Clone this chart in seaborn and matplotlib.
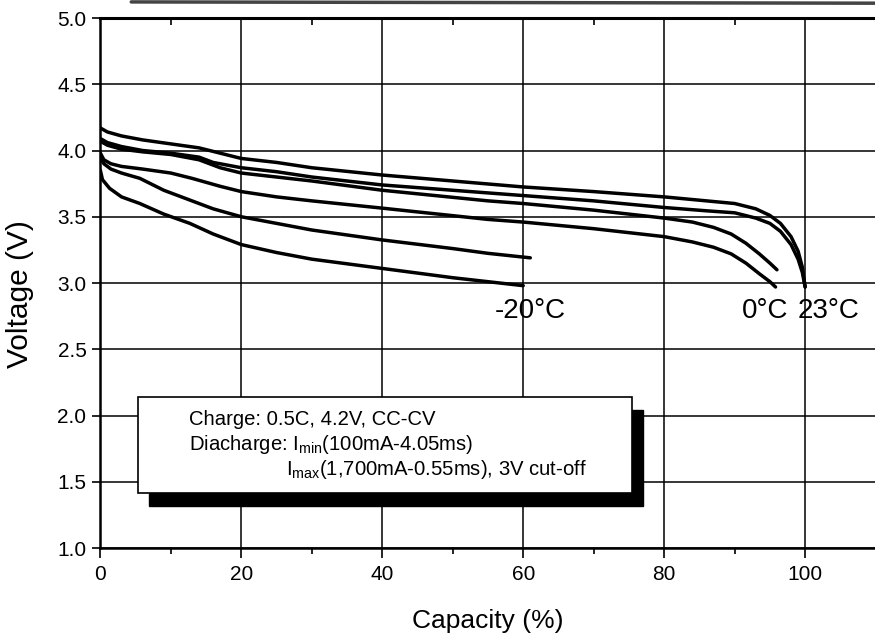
import numpy as np
import pandas as pd
import matplotlib
matplotlib.use("Agg")
import matplotlib.pyplot as plt
import seaborn as sns
from matplotlib.patches import Rectangle
from matplotlib.ticker import FixedLocator
from matplotlib.lines import Line2D

# ---------------- data ----------------
cap_23a = [0, 1, 3, 6, 10, 14, 17, 20, 25, 30, 40, 50, 60, 70, 80, 86, 90, 93, 95, 96.5, 98, 99, 99.6, 100]
volt_23a = [4.17, 4.14, 4.11, 4.08, 4.05, 4.02, 3.98, 3.94, 3.91, 3.87, 3.815, 3.77, 3.725, 3.69, 3.65, 3.62,
            3.60, 3.56, 3.51, 3.45, 3.35, 3.24, 3.12, 2.97]

cap_23b = [0, 1, 3, 6, 10, 14, 16, 20, 25, 30, 40, 55, 60, 70, 80, 86, 90, 93, 95, 96.5, 98, 99, 99.6, 100]
volt_23b = [4.09, 4.06, 4.03, 4.00, 3.98, 3.95, 3.91, 3.87, 3.84, 3.80, 3.74, 3.68, 3.66, 3.62, 3.57, 3.545,
            3.53, 3.49, 3.45, 3.39, 3.29, 3.18, 3.08, 2.97]

cap_0a = [0, 1, 3, 6, 10, 14, 17, 20, 25, 30, 40, 55, 60, 70, 80, 84, 87, 89.5, 91.6, 93.5, 95, 96]
volt_0a = [4.07, 4.04, 4.01, 3.99, 3.97, 3.93, 3.87, 3.83, 3.80, 3.77, 3.70, 3.62, 3.60, 3.55, 3.49, 3.46,
           3.42, 3.37, 3.30, 3.22, 3.15, 3.10]

cap_0b = [0, 0.5, 1.5, 3, 6, 10, 13, 17, 20, 25, 30, 40, 55, 60, 70, 80, 84, 87, 89.5, 91.6, 93.5, 95, 95.8]
volt_0b = [3.98, 3.93, 3.90, 3.88, 3.86, 3.83, 3.79, 3.73, 3.69, 3.65, 3.62, 3.565, 3.48, 3.46, 3.41, 3.35,
           3.31, 3.27, 3.22, 3.15, 3.07, 3.01, 2.97]

cap_m20a = [0, 0.5, 1.5, 3, 5.6, 9, 12.7, 16, 20, 25, 30, 40, 50, 55, 61]
volt_m20a = [3.95, 3.90, 3.86, 3.83, 3.79, 3.70, 3.626, 3.56, 3.50, 3.45, 3.40, 3.325, 3.26, 3.224, 3.19]

cap_m20b = [0, 0.3, 1.3, 3, 5.6, 9, 12.7, 16, 20, 25, 30, 40, 50, 55, 60]
volt_m20b = [3.85, 3.78, 3.715, 3.65, 3.60, 3.52, 3.45, 3.37, 3.29, 3.23, 3.18, 3.11, 3.04, 3.01, 2.98]

curve_names = ["23a", "23b", "0a", "0b", "-20a", "-20b"]
temp_labels = ["-20\u00b0C", "0\u00b0C", "23\u00b0C"]
x_ticks = [0, 20, 40, 60, 80, 100]
y_ticks = [1.0, 1.5, 2.0, 2.5, 3.0, 3.5, 4.0, 4.5, 5.0]
box_lines = ["Charge: 0.5C, 4.2V, CC-CV",
             "Diacharge: I$_{\\rm min}$(100mA-4.05ms)",
             "I$_{\\rm max}$(1,700mA-0.55ms), 3V cut-off"]

caps = [cap_23a, cap_23b, cap_0a, cap_0b, cap_m20a, cap_m20b]
volts = [volt_23a, volt_23b, volt_0a, volt_0b, volt_m20a, volt_m20b]
frames = []
for name, c, v in zip(curve_names, caps, volts):
    frames.append(pd.DataFrame({"Capacity": c, "Voltage": v, "curve": name}))
df = pd.concat(frames, ignore_index=True)

# ---------------- style ----------------
sns.set_style("ticks")
plt.rcParams["font.family"] = ["Liberation Sans", "DejaVu Sans"]
plt.rcParams["mathtext.fontset"] = "custom"
plt.rcParams["mathtext.rm"] = "Liberation Sans"
plt.rcParams["mathtext.it"] = "Liberation Sans:italic"
plt.rcParams["axes.edgecolor"] = "black"
plt.rcParams["text.color"] = "black"
plt.rcParams["axes.labelcolor"] = "black"
plt.rcParams["xtick.color"] = "black"
plt.rcParams["ytick.color"] = "black"

fig = plt.figure(figsize=(8.75, 6.39), dpi=100)
ax = fig.add_axes([0.1147, 0.1424, 0.886, 0.8294])

sns.lineplot(data=df, x="Capacity", y="Voltage", units="curve", estimator=None, sort=False,
             color="black", lw=2.5, ax=ax, legend=False, zorder=3)

ax.set_xlim(0, 110)
ax.set_ylim(1.0, 5.0)
ax.xaxis.set_major_locator(FixedLocator(x_ticks))
ax.xaxis.set_minor_locator(FixedLocator([10, 30, 50, 70, 90]))
ax.yaxis.set_major_locator(FixedLocator(y_ticks))
ax.set_xticklabels([str(t) for t in x_ticks])
ax.set_yticklabels([f"{t:.1f}" for t in y_ticks])

ax.grid(True, which="major", color="black", lw=1.1)
for s in ["left", "bottom"]:
    ax.spines[s].set_linewidth(1.8)
ax.spines["top"].set_linewidth(2.2)
ax.spines["right"].set_visible(False)

ax.tick_params(axis="x", which="major", direction="out", length=7, width=1.2, labelsize=15, pad=5)
ax.tick_params(axis="x", which="minor", direction="out", length=4, width=1.2)
ax.tick_params(axis="y", which="major", direction="out", length=6, width=1.2, labelsize=15, pad=4)

top = ax.secondary_xaxis("top")
top.set_xticks([10, 30, 50, 70, 90])
top.tick_params(direction="in", length=5, width=1.2, labeltop=False)
top.spines["top"].set_visible(False)

ax.set_xlabel("Capacity (%)", fontsize=19, labelpad=18)
ax.set_ylabel("Voltage (V)", fontsize=21.5)
ax.yaxis.set_label_coords(-0.085, 0.48)

# temperature labels
ax.text(55.9, 2.736, temp_labels[0], fontsize=20, va="baseline", ha="left", zorder=4)
ax.text(91.0, 2.736, temp_labels[1], fontsize=20, va="baseline", ha="left", zorder=4)
ax.text(98.95, 2.736, temp_labels[2], fontsize=20, va="baseline", ha="left", zorder=4)

# condition box with shadow
bx0, bx1, by0, by1 = 5.35, 75.5, 1.415, 2.14
ax.add_patch(Rectangle((bx0 + 1.5, by0 - 0.1), bx1 - bx0, by1 - by0, facecolor="black",
                       edgecolor="black", zorder=5))
ax.add_patch(Rectangle((bx0, by0), bx1 - bx0, by1 - by0, facecolor="white",
                       edgecolor="black", lw=1.2, zorder=6))
ax.text(12.6, 1.928, box_lines[0], fontsize=14.6, va="baseline", ha="left", zorder=7)
ax.text(12.6, 1.74, box_lines[1], fontsize=14.6, va="baseline", ha="left", zorder=7)
ax.text(26.3, 1.55, box_lines[2], fontsize=14.6, va="baseline", ha="left", zorder=7)

# scan edge at top
fig.add_artist(Line2D([0.15, 1.0], [0.997, 0.995], color="#444444", lw=2.5))

fig.savefig("out.png", dpi=100)
